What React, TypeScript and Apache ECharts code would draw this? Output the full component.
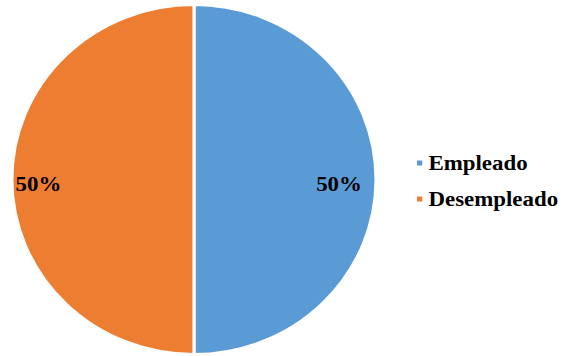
import React, { useEffect, useRef } from "react";
import * as echarts from "echarts";

const categories = ["Empleado", "Desempleado"];
const values = [50, 50];
const colors = ["#5B9BD5", "#ED7D31"];

const SX = 1.04;

export default function App() {
  const ref = useRef<HTMLDivElement>(null);
  useEffect(() => {
    document.body.style.margin = "0";
    const chart = echarts.init(ref.current!, null, { renderer: "svg" });
    chart.setOption({
      animation: false,
      backgroundColor: "#ffffff",
      legend: {
        orient: "vertical",
        left: 394,
        top: 147,
        itemWidth: 7,
        itemHeight: 7,
        itemGap: 14,
        icon: "rect",
        data: categories,
        textStyle: {
          fontFamily: "Liberation Serif",
          fontWeight: "bold",
          fontSize: 22,
          lineHeight: 22,
          color: "#000",
          padding: [0, 0, 0, 0],
        },
      },
      series: [
        {
          type: "pie",
          center: [186.5, 179.5],
          radius: 175,
          startAngle: 90,
          clockwise: true,
          itemStyle: { borderColor: "#fff", borderWidth: 3 },
          label: {
            show: true,
            position: "inside",
            formatter: (p: any) => Math.round(p.percent) + "%",
            fontFamily: "Liberation Serif",
            fontWeight: "bold",
            fontSize: 22,
            color: "#000",
          },
          labelLayout: (p: any) => ({ dx: p.dataIndex === 0 ? 49 : -59, dy: 4 }),
          labelLine: { show: false },
          emphasis: { disabled: true },
          data: categories.map((c, i) => ({ name: c, value: values[i], itemStyle: { color: colors[i] } })),
        },
      ],
    });
    return () => chart.dispose();
  }, []);
  return (
    <div style={{ width: 564, height: 356, overflow: "hidden", background: "#fff" }}>
      <div
        ref={ref}
        style={{ width: 564 / SX, height: 356, transform: `scaleX(${SX})`, transformOrigin: "0 0" }}
      />
    </div>
  );
}
